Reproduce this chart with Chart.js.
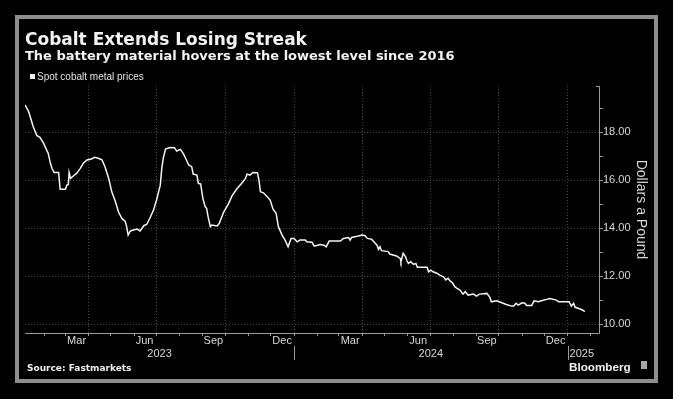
<!DOCTYPE html>
<html>
<head>
<meta charset="utf-8">
<script src="https://cdn.jsdelivr.net/npm/chart.js@4"></script>
<style>
  html, body { margin:0; padding:0; background:#000; }
  body { width:673px; height:399px; position:relative; overflow:hidden; }
  #frame { position:absolute; left:15px; top:15px; width:643px; height:368px; box-sizing:border-box; border:4px solid #8e8e8e; }
  canvas { position:absolute; left:0; top:0; }
  .t { position:absolute; white-space:nowrap; line-height:1; color:#f2f2f2; }
  #title { left:25px; top:28.6px; font:bold 17px "DejaVu Sans"; }
  #subtitle { left:25px; top:48.3px; font:bold 13px "DejaVu Sans"; }
  #legend { left:37px; top:70.5px; font:10px "Liberation Sans"; color:#e0e0e0; }
  #legsq { position:absolute; left:30px; top:74px; width:5px; height:5px; background:#f2f2f2; }
  #source { left:27px; top:363.4px; font:bold 9px "DejaVu Sans"; color:#f0f0f0; }
  #bbg { left:569px; top:360px; font:bold 11.7px "Liberation Sans"; color:#f2f2f2; }
  #icon { position:absolute; left:641px; top:361px; width:6px; height:8px; background:#a8a8a8; }
</style>
</head>
<body>
<div id="frame"></div>
<canvas id="c" width="673" height="399"></canvas>
<div class="t" id="title">Cobalt Extends Losing Streak</div>
<div class="t" id="subtitle">The battery material hovers at the lowest level since 2016</div>
<div id="legsq"></div>
<div class="t" id="legend">Spot cobalt metal prices</div>
<div class="t" id="source">Source: Fastmarkets</div>
<div class="t" id="bbg">Bloomberg</div>
<div id="icon"></div>
<script>
// ---- data ----
const dates = [
 '2023-01-06','2023-01-11','2023-01-13','2023-01-17','2023-01-22','2023-01-26','2023-01-31','2023-02-04','2023-02-06','2023-02-09',
 '2023-02-11','2023-02-14','2023-02-20','2023-02-22','2023-03-01','2023-03-03','2023-03-05','2023-03-06','2023-03-08','2023-03-12',
 '2023-03-16','2023-03-21','2023-03-25','2023-03-30','2023-04-05','2023-04-09','2023-04-14','2023-04-19','2023-04-23','2023-04-28',
 '2023-05-02','2023-05-07','2023-05-11','2023-05-16','2023-05-20','2023-05-22','2023-05-24','2023-05-27','2023-05-31','2023-06-05',
 '2023-06-09','2023-06-14','2023-06-18','2023-06-22','2023-06-27','2023-07-01','2023-07-06','2023-07-08','2023-07-10','2023-07-13',
 '2023-07-19','2023-07-25','2023-07-28','2023-08-02','2023-08-06','2023-08-08','2023-08-13','2023-08-17','2023-08-19','2023-08-24',
 '2023-08-26','2023-08-29','2023-09-01','2023-09-04','2023-09-06','2023-09-08','2023-09-11','2023-09-13','2023-09-20','2023-09-23',
 '2023-09-29','2023-10-05','2023-10-10','2023-10-16','2023-10-23','2023-10-28','2023-10-30','2023-11-03','2023-11-07','2023-11-13',
 '2023-11-15','2023-11-17','2023-11-21','2023-11-26','2023-11-30','2023-12-04','2023-12-08','2023-12-11','2023-12-16','2023-12-20',
 '2023-12-24','2023-12-28','2024-01-01','2024-01-05','2024-01-09','2024-01-16','2024-01-18','2024-01-25','2024-01-28','2024-02-05',
 '2024-02-10','2024-02-13','2024-02-17','2024-03-03','2024-03-07','2024-03-14','2024-03-16','2024-03-18','2024-03-27','2024-04-01',
 '2024-04-05','2024-04-08','2024-04-14','2024-04-18','2024-04-21','2024-04-23','2024-04-25','2024-04-27','2024-05-06','2024-05-08',
 '2024-05-17','2024-05-22','2024-05-23','2024-05-26','2024-05-29','2024-05-31','2024-06-02','2024-06-05','2024-06-09','2024-06-12',
 '2024-06-14','2024-06-27','2024-06-29','2024-07-02','2024-07-05','2024-07-10','2024-07-14','2024-07-19','2024-07-22','2024-07-25',
 '2024-07-28','2024-07-31','2024-08-03','2024-08-06','2024-08-10','2024-08-14','2024-08-17','2024-08-21','2024-08-28','2024-09-01',
 '2024-09-05','2024-09-15','2024-09-19','2024-09-21','2024-09-28','2024-10-05','2024-10-11','2024-10-18','2024-10-21','2024-10-24',
 '2024-10-27','2024-11-01','2024-11-05','2024-11-07','2024-11-14','2024-11-17','2024-11-23','2024-11-27','2024-12-04','2024-12-08',
 '2024-12-17','2024-12-20','2025-01-03','2025-01-06','2025-01-09','2025-01-11','2025-01-15','2025-01-21','2025-01-24'
];
const prices = [
 19.14,18.86,18.65,18.23,17.86,17.79,17.54,17.26,17.13,16.71,
 16.50,16.33,16.33,15.63,15.63,15.80,15.83,16.33,16.08,16.19,
 16.29,16.50,16.71,16.85,16.89,16.96,16.92,16.85,16.57,16.08,
 15.53,15.11,14.69,14.39,14.30,14.07,13.72,13.89,13.93,13.97,
 13.89,14.11,14.17,14.42,14.76,15.18,15.80,16.50,16.92,17.30,
 17.37,17.36,17.22,17.29,17.10,16.98,16.64,16.57,16.26,16.22,
 15.87,15.85,15.25,14.90,14.83,14.48,14.07,14.14,14.10,14.21,
 14.69,15.01,15.35,15.63,15.88,16.08,16.26,16.22,16.33,16.32,
 16.01,15.53,15.48,15.32,15.18,14.79,14.63,14.07,13.72,13.51,
 13.23,13.58,13.58,13.44,13.51,13.51,13.44,13.42,13.26,13.33,
 13.30,13.23,13.47,13.47,13.58,13.62,13.51,13.62,13.68,13.72,
 13.69,13.58,13.54,13.40,13.30,13.12,13.23,13.07,13.03,12.93,
 12.85,12.75,12.61,12.96,12.82,12.65,12.54,12.61,12.50,12.54,
 12.38,12.38,12.19,12.26,12.19,12.13,12.05,11.98,11.85,11.92,
 11.80,11.73,11.57,11.50,11.43,11.26,11.36,11.22,11.26,11.18,
 11.26,11.29,11.13,10.94,10.98,10.90,10.83,10.76,10.76,10.88,
 10.80,10.90,10.88,10.79,10.79,10.98,10.94,10.98,11.04,11.08,
 11.01,10.94,10.94,10.76,10.88,10.71,10.67,10.60,10.53
];
const yTickValues = [10, 12, 14, 16, 18];
const monthLabels = ['Mar','Jun','Sep','Dec','Mar','Jun','Sep','Dec'];
const monthLabelDates = ['2023-03-16','2023-06-15','2023-09-15','2023-12-16','2024-03-16','2024-06-15','2024-09-15','2024-12-16'];
const yearLabels = ['2023','2024','2025'];
const yearStarts = ['2023-01-01','2024-01-01','2025-01-01'];

// ---- helpers ----
const EPOCH = Date.UTC(2023,0,1);
function dayOf(s){ const [y,m,d] = s.split('-').map(Number); return (Date.UTC(y,m-1,d)-EPOCH)/864e5; }
const X_MIN = dayOf('2023-01-06'), X_MAX = dayOf('2025-02-12');
const points = dates.map((d,i)=>({x:dayOf(d), y:prices[i]}));
const monthStarts = [];
for (let y=2023; y<=2025; y++) for (let m=0; m<12; m++) {
  const v = (Date.UTC(y,m,1)-EPOCH)/864e5;
  if (v > X_MIN && v < X_MAX) monthStarts.push({v, q: m%3===0});
}

const GRID = 'rgba(255,255,255,0.28)';
const AXIS = '#9a9a9a';
const TXT = '#d8d8d8';

const xLabelsPlugin = {
  id:'xLabels',
  afterDraw(chart){
    const xs = chart.scales.x, ctx = chart.ctx, ca = chart.chartArea;
    ctx.save();
    // solid axis lines
    ctx.strokeStyle = AXIS; ctx.lineWidth = 1; ctx.setLineDash([]);
    ctx.beginPath();
    ctx.moveTo(ca.left, Math.round(ca.bottom)+0.5); ctx.lineTo(Math.round(ca.right)+0.5, Math.round(ca.bottom)+0.5);
    ctx.moveTo(Math.round(ca.right)+0.5, Math.round(ca.bottom)+0.5); ctx.lineTo(Math.round(ca.right)+0.5, Math.round(ca.top)+0.5);
    ctx.lineTo(Math.round(ca.right)-3, Math.round(ca.top)+0.5);
    ctx.stroke();
    ctx.fillStyle = TXT;
    ctx.font = '11px "Liberation Sans"';
    ctx.textBaseline = 'middle';
    ctx.textAlign = 'center';
    monthLabels.forEach((m,i)=>ctx.fillText(m, xs.getPixelForValue(dayOf(monthLabelDates[i])), 341));
    yearLabels.forEach((yl,i)=>{
      const s = Math.max(X_MIN, dayOf(yearStarts[i]));
      const e = i+1<yearStarts.length ? Math.min(X_MAX, dayOf(yearStarts[i+1])) : X_MAX;
      const ps = xs.getPixelForValue(s), pe = xs.getPixelForValue(e);
      if (dayOf(yearStarts[i]) > X_MIN) {
        ctx.beginPath(); ctx.moveTo(Math.round(ps)+0.5, 346); ctx.lineTo(Math.round(ps)+0.5, 360); ctx.stroke();
      }
      if (pe-ps < 40) { ctx.textAlign='left'; ctx.fillText(yl, ps+2, 353.5); }
      else { ctx.textAlign='center'; ctx.fillText(yl, (ps+pe)/2, 353.5); }
    });
    ctx.restore();
  }
};

Chart.defaults.font.family = '"Liberation Sans", Arial, sans-serif';
new Chart(document.getElementById('c'), {
  type:'line',
  data:{ datasets:[{ label:'Spot cobalt metal prices', data:points, borderColor:'#f4f4f4', borderWidth:1.5, pointRadius:0, tension:0, fill:false }]},
  options:{
    responsive:false, animation:false, devicePixelRatio:1,
    layout:{ padding:{ left:25, top:86, right:20, bottom:66 } },
    plugins:{ legend:{display:false}, tooltip:{enabled:false}, title:{display:false} },
    scales:{
      x:{
        type:'linear', min:X_MIN, max:X_MAX,
        afterBuildTicks(s){ s.ticks = monthStarts.map(o=>({value:o.v})); },
        afterFit(s){ s.height = 0; },
        ticks:{ display:false },
        grid:{ color:(c)=>{ const o = monthStarts.find(m=>m.v===c.tick?.value); return o && o.q ? GRID : 'rgba(0,0,0,0)'; },
               tickColor:AXIS, tickLength:3, lineWidth:1 },
        border:{ display:false, dash:[1,2] }
      },
      y:{
        position:'right', min:9.64, max:19.93,
        afterBuildTicks(s){ const t=[]; for(let v=10; v<=19; v++) t.push({value:v}); s.ticks=t; },
        afterFit(s){ s.width = 54; },
        ticks:{ color:TXT, font:{size:11}, padding:0,
                callback:(v)=> yTickValues.includes(v) ? v.toFixed(2) : '' },
        grid:{ color:(c)=> yTickValues.includes(c.tick?.value) ? GRID : 'rgba(0,0,0,0)',
               tickColor:AXIS, tickLength:4, lineWidth:1 },
        border:{ display:false, dash:[1,2] },
        title:{ display:true, text:'Dollars a Pound', color:TXT, font:{size:14}, padding:{top:4,bottom:4} }
      }
    }
  },
  plugins:[xLabelsPlugin]
});
</script>
</body>
</html>
